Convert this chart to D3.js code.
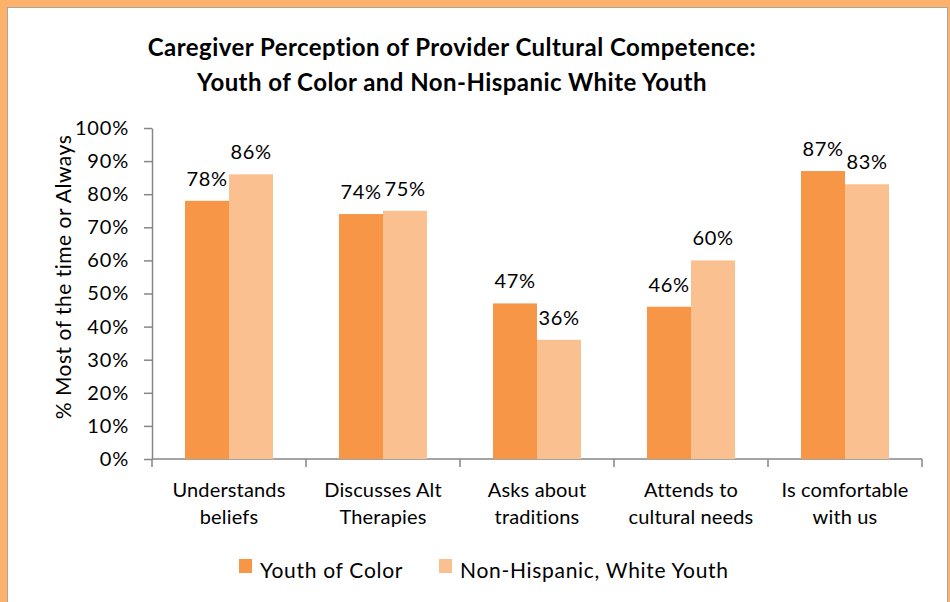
<!DOCTYPE html>
<html>
<head>
<meta charset="utf-8">
<script src="https://cdn.jsdelivr.net/npm/d3@7"></script>
<style>
  body { margin: 0; background: #fcb26a; }
  svg { display: block; font-family: Lato, "Open Sans", sans-serif; }
</style>
</head>
<body>
<div id="chart"></div>
<script>
// chart data
const categories = [
  ["Understands", "beliefs"],
  ["Discusses Alt", "Therapies"],
  ["Asks about", "traditions"],
  ["Attends to", "cultural needs"],
  ["Is comfortable", "with us"]
];
const seriesNames = ["Youth of Color", "Non-Hispanic, White Youth"];
const youthOfColor = [78, 74, 47, 46, 87];
const whiteYouth = [86, 75, 36, 60, 83];
const yTicks = [0, 10, 20, 30, 40, 50, 60, 70, 80, 90, 100];
const titleLines = [
  "Caregiver Perception of Provider Cultural Competence:",
  "Youth of Color and Non-Hispanic White Youth"
];

const colors = ["#f79646", "#fac090"];
const W = 950, H = 602;
const margin = { top: 128, left: 152, right: 28, bottom: 143 };

const svg = d3.select("#chart").append("svg")
  .attr("width", W).attr("height", H);

// orange frame + white plot card
svg.append("rect").attr("width", W).attr("height", H).attr("fill", "#fcb26a");
svg.append("rect").attr("x", 7.5).attr("y", 7.5).attr("width", 940).attr("height", H)
  .attr("fill", "#fff").attr("stroke", "#a6a6a6");

// scales
const x0 = d3.scaleBand()
  .domain(d3.range(categories.length))
  .range([margin.left, W - margin.right]);

// two bars of 44px centred in each 154px band
const x1 = d3.scaleBand()
  .domain([0, 1])
  .range([33, x0.bandwidth() - 33]);

const y = d3.scaleLinear().domain([0, 100]).range([H - margin.bottom, margin.top]);

// title
svg.append("g").selectAll("text").data(titleLines).join("text")
  .attr("x", 452).attr("y", (d, i) => 56 + i * 35)
  .attr("text-anchor", "middle")
  .attr("font-size", 24).attr("font-weight", "bold").attr("letter-spacing", 0.45)
  .attr("fill", "#000")
  .text(d => d);

// y axis
const yAxis = svg.append("g")
  .attr("transform", `translate(${margin.left},0)`)
  .call(d3.axisLeft(y).tickValues(yTicks).tickFormat(d => d + "%").tickSize(8).tickSizeOuter(0));
yAxis.select(".domain").attr("stroke", "#868686").attr("stroke-width", 1.5);
yAxis.selectAll(".tick line").attr("stroke", "#868686").attr("stroke-width", 1.5);
yAxis.selectAll(".tick text")
  .attr("font-size", 20).attr("letter-spacing", 0.8).attr("fill", "#000")
  .attr("font-family", "Lato, sans-serif").attr("x", -23);

// x axis: baseline plus category dividers
const xAxisG = svg.append("g").attr("transform", `translate(0,${y(0)})`);
xAxisG.append("line")
  .attr("x1", x0.range()[0]).attr("x2", x0.range()[1])
  .attr("stroke", "#868686").attr("stroke-width", 1.5);
const bounds = d3.range(categories.length + 1).map(i => x0.range()[0] + i * x0.step());
xAxisG.selectAll("line.tk").data(bounds).join("line").attr("class", "tk")
  .attr("x1", d => d).attr("x2", d => d).attr("y1", 0).attr("y2", 8)
  .attr("stroke", "#868686").attr("stroke-width", 1.5);

const catText = xAxisG.selectAll("text.cat").data(categories).join("text").attr("class", "cat")
  .attr("text-anchor", "middle").attr("font-size", 20).attr("letter-spacing", 0.15)
  .attr("fill", "#000");
catText.each(function (lines, i) {
  d3.select(this).selectAll("tspan").data(lines).join("tspan")
    .attr("x", x0(i) + x0.bandwidth() / 2)
    .attr("y", (d, k) => 38 + k * 27)
    .text(d => d);
});

// y axis title
svg.append("text")
  .attr("transform", "translate(71,277) rotate(-90)")
  .attr("text-anchor", "middle").attr("font-size", 21).attr("letter-spacing", 0.5)
  .attr("fill", "#000")
  .text("% Most of the time or Always");

// bars
const rows = categories.map((c, i) => [youthOfColor[i], whiteYouth[i]]);
const groups = svg.append("g").selectAll("g").data(rows).join("g")
  .attr("transform", (d, i) => `translate(${x0(i)},0)`);
groups.selectAll("rect").data(d => d).join("rect")
  .attr("x", (d, j) => x1(j))
  .attr("width", x1.bandwidth())
  .attr("y", d => y(d))
  .attr("height", d => y(0) - y(d))
  .attr("fill", (d, j) => colors[j]);

// data labels
groups.selectAll("text").data(d => d).join("text")
  .attr("x", (d, j) => x1(j) + x1.bandwidth() / 2)
  .attr("y", d => y(d) - 15)
  .attr("text-anchor", "middle").attr("font-size", 20).attr("letter-spacing", 0.6)
  .attr("fill", "#000")
  .text(d => d + "%");

// legend
const legendX = [239, 439];
const legend = svg.append("g").selectAll("g").data(seriesNames).join("g")
  .attr("transform", (d, i) => `translate(${legendX[i]},559)`);
legend.append("rect").attr("width", 13).attr("height", 14).attr("fill", (d, i) => colors[i]);
legend.append("text").attr("x", 21).attr("y", 19)
  .attr("font-size", 21).attr("letter-spacing", 0.7).attr("fill", "#000")
  .text(d => d);
</script>
</body>
</html>
